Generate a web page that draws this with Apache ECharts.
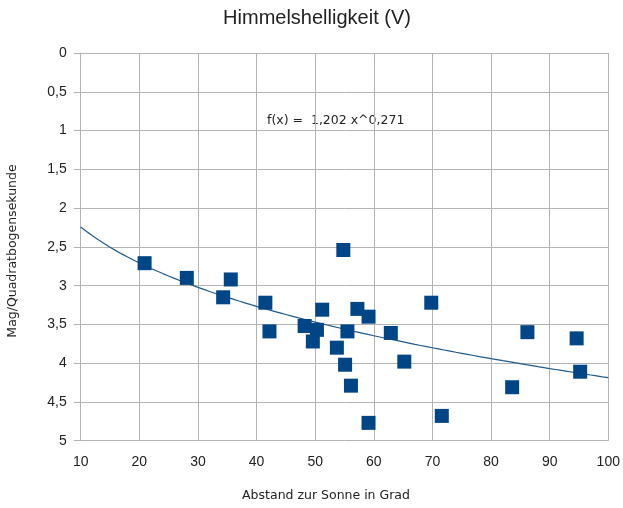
<!DOCTYPE html>
<html>
<head>
<meta charset="utf-8">
<script src="https://cdn.jsdelivr.net/npm/echarts@6/dist/echarts.min.js"></script>
<style>
  html, body { margin: 0; padding: 0; background: #fff; }
  #chart { width: 623px; height: 508px; }
</style>
</head>
<body>
<div id="chart"></div>
<script>
// Angular distance from the sun (degrees)
const distance = [20.9, 28.1, 35.6, 34.3, 41.5, 42.2, 48.2, 50.3, 49.6, 51.2,
  54.8, 53.7, 55.5, 55.1, 56.1, 57.2, 59.1, 59.1, 62.9, 65.2,
  69.8, 71.6, 83.6, 86.2, 94.6, 95.2];
// Sky brightness in mag per square arcsecond
const brightness = [2.71, 2.90, 2.92, 3.15, 3.22, 3.59, 3.52, 3.57, 3.72, 3.31,
  2.54, 3.80, 3.59, 4.02, 4.29, 3.30, 3.40, 4.77, 3.61, 3.98,
  3.22, 4.68, 4.31, 3.60, 3.68, 4.11];
// Power-law trend f(x) = a * x^b
const trendA = 1.202;
const trendB = 0.271;

const points = distance.map((d, i) => [d, brightness[i]]);
const trend = [];
for (let x = 10; x <= 100; x += 1) trend.push([x, trendA * Math.pow(x, trendB)]);

const sans = '"Liberation Sans", Arial, sans-serif';
const wide = '"DejaVu Sans", sans-serif';
const ink = '#222';
const gridColor = '#b3b3b3';

const chart = echarts.init(document.getElementById('chart'));
chart.setOption({
  animation: false,
  textStyle: { fontFamily: sans },
  grid: { left: 80.7, right: 14.7, top: 53.1, bottom: 67.3 },
  xAxis: {
    type: 'value', min: 10, max: 100, interval: 10,
    axisLine: { show: true, lineStyle: { color: gridColor } },
    axisTick: { show: true, length: 7, lineStyle: { color: gridColor } },
    axisLabel: { fontFamily: sans, fontSize: 14, color: ink, margin: 14 },
    splitLine: { show: true, lineStyle: { color: gridColor } }
  },
  yAxis: {
    type: 'value', min: 0, max: 5, interval: 0.5, inverse: true,
    axisLine: { show: true, lineStyle: { color: gridColor } },
    axisTick: { show: true, length: 7, lineStyle: { color: gridColor } },
    axisLabel: {
      fontFamily: sans, fontSize: 14, color: ink, margin: 14,
      formatter: v => String(v).replace('.', ',')
    },
    splitLine: { show: true, lineStyle: { color: gridColor } }
  },
  graphic: [
    {
      type: 'text', x: 317, y: 18,
      style: { text: 'Himmelshelligkeit (V)', font: '20px ' + sans, fill: ink,
               textAlign: 'center', textVerticalAlign: 'middle' }
    },
    {
      type: 'text', x: 326, y: 496,
      style: { text: 'Abstand zur Sonne in Grad', font: '12.5px ' + wide, fill: ink,
               textAlign: 'center', textVerticalAlign: 'middle' }
    },
    {
      type: 'text', x: 13, y: 251, rotation: Math.PI / 2,
      style: { text: 'Mag/Quadratbogensekunde', font: '12.5px ' + wide, fill: ink,
               textAlign: 'center', textVerticalAlign: 'middle' }
    },
    {
      type: 'text', x: 267, y: 121,
      style: { text: 'f(x) =  1,202 x^0,271', font: '12.5px ' + wide, fill: ink,
               textAlign: 'left', textVerticalAlign: 'middle' }
    }
  ],
  series: [
    {
      type: 'line', data: trend, showSymbol: false, smooth: false,
      lineStyle: { color: '#1f5a8c', width: 1.2 }, z: 2
    },
    {
      type: 'scatter', data: points, symbol: 'rect', symbolSize: 14,
      itemStyle: { color: '#004586', opacity: 1 }, z: 3
    }
  ]
});
</script>
</body>
</html>
